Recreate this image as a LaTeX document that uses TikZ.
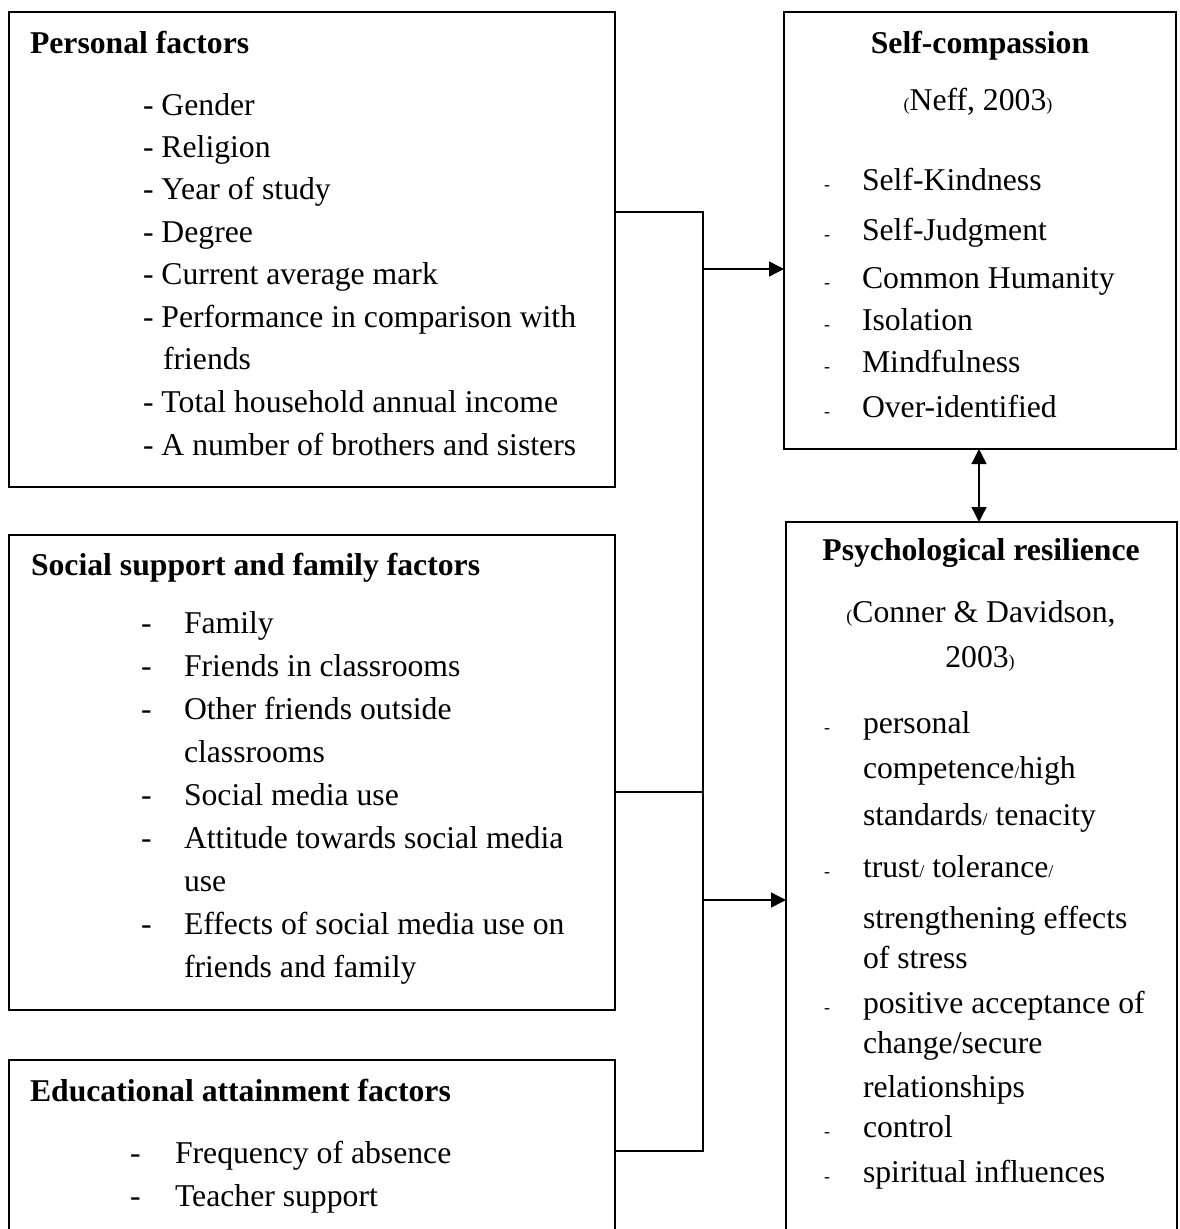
\documentclass[tikz,border=0pt]{standalone}
\usepackage{fontspec}
\setmainfont{Liberation Serif}
\usetikzlibrary{arrows.meta}
\newcommand\smallch[1]{{\fontsize{18}{20}\selectfont #1}}

\begin{document}
\begin{tikzpicture}[x=1pt,y=-1pt,
  frame/.style={draw, line width=1.4pt, inner sep=0pt, outer sep=0pt, anchor=north west},
  txt/.style={inner sep=0pt, outer sep=0pt, anchor=base west, font=\fontsize{31.7}{38}\selectfont},
  head/.style={txt, font=\fontsize{31.7}{38}\selectfont\bfseries},
  ctr/.style={txt, anchor=base},
  cthead/.style={head, anchor=base},
  link/.style={line width=1.4pt},
  tip/.tip={Triangle[length=15pt,width=15pt]},
  arr/.style={link, -tip},
]
\clip (0,0) rectangle (1179,1229);

% ---- left column frames ----
\node[frame, minimum width=606pt, minimum height=475pt] (pf) at (9,12) {};
\node[frame, minimum width=606pt, minimum height=475pt] (ss) at (9,535) {};
\node[frame, minimum width=606pt, minimum height=220pt] (ea) at (9,1060) {};

% ---- right column frames ----
\node[frame, minimum width=392pt, minimum height=437pt] (sc) at (784,12) {};
\node[frame, minimum width=391pt, minimum height=740pt] (pr) at (786,522) {};

% ---- Personal factors ----
\node[head] (pf-t) at (30,53) {Personal factors};
\foreach \yy/\tt [count=\i] in {115/- Gender, 157/- Religion, 199/- Year of study,
    242/- Degree, 284/- Current average mark, 327/- Performance in comparison with,
    412/- Total household annual income, 455/- A number of brothers and sisters}
  \node[txt] (pf-\i) at (143,\yy) {\tt};
\node[txt] (pf-w) at (163,369) {friends};

% ---- Social support and family factors ----
\node[head] (ss-t) at (31,575) {Social support and family factors};
\foreach \yy [count=\i] in {633,676,719,805,848,934}
  \node[txt] (ss-d\i) at (141,\yy) {-};
\foreach \yy/\tt [count=\i] in {633/Family, 676/Friends in classrooms,
    719/Other friends outside, 762/classrooms, 805/Social media use,
    848/Attitude towards social media, 891/use, 934/Effects of social media use on,
    977/friends and family}
  \node[txt] (ss-\i) at (184,\yy) {\tt};

% ---- Educational attainment factors ----
\node[head] (ea-t) at (30,1101) {Educational attainment factors};
\node[txt] (ea-d1) at (130,1163) {-};
\node[txt] (ea-d2) at (130,1206) {-};
\node[txt] (ea-1) at (175,1163) {Frequency of absence};
\node[txt] (ea-2) at (175,1206) {Teacher support};

% ---- Self-compassion ----
\node[cthead] (sc-t) at (980,53) {Self-compassion};
\node[ctr] (sc-r) at (978,110) {\smallch{(}Neff, 2003\smallch{)}};
\foreach \yy/\tt [count=\i] in {190/Self-Kindness, 240/Self-Judgment,
    288/Common Humanity, 330/Isolation, 372/Mindfulness, 417/Over-identified}
  {\node[txt] (sc-d\i) at (824,\yy) {\smallch{-}};
   \node[txt] (sc-\i) at (862,\yy) {\tt};}

% ---- Psychological resilience ----
\node[cthead] (pr-t) at (981,560) {Psychological resilience};
\node[ctr] (pr-r1) at (981,622) {\smallch{(}Conner \& Davidson,};
\node[ctr] (pr-r2) at (980,667) {2003\smallch{)}};
\foreach \yy [count=\i] in {733,877,1013,1137,1182}
  \node[txt] (pr-d\i) at (824,\yy) {\smallch{-}};
\node[txt] (pr-1) at (863,733) {personal};
\node[txt] (pr-2) at (863,778) {competence\smallch{/}high};
\node[txt] (pr-3) at (863,825) {standards\smallch{/} tenacity};
\node[txt] (pr-4) at (863,877) {trust\smallch{/} tolerance\smallch{/}};
\node[txt] (pr-5) at (863,928) {strengthening effects};
\node[txt] (pr-6) at (863,968) {of stress};
\node[txt] (pr-7) at (863,1013) {positive acceptance of};
\node[txt] (pr-8) at (863,1053) {change/secure};
\node[txt] (pr-9) at (863,1097) {relationships};
\node[txt] (pr-10) at (863,1137) {control};
\node[txt] (pr-11) at (863,1182) {spiritual influences};

% ---- connectors ----
\coordinate (j1) at (703,212);
\coordinate (j2) at (703,792);
\coordinate (j3) at (703,1151);
\coordinate (a1) at (703,269);
\coordinate (a2) at (703,900);
\coordinate (dx) at (979,0);
\draw[link] (pf.east |- j1) -- (j1) -- (j3) -- (ea.east |- j3);
\draw[link] (ss.east |- j2) -- (j2);
\draw[arr] (a1) -- (sc.west |- a1);
\draw[arr] (a2) -- (pr.west |- a2);
\draw[link, tip-tip] (sc.south -| dx) -- (pr.north -| dx);
\end{tikzpicture}
\end{document}
